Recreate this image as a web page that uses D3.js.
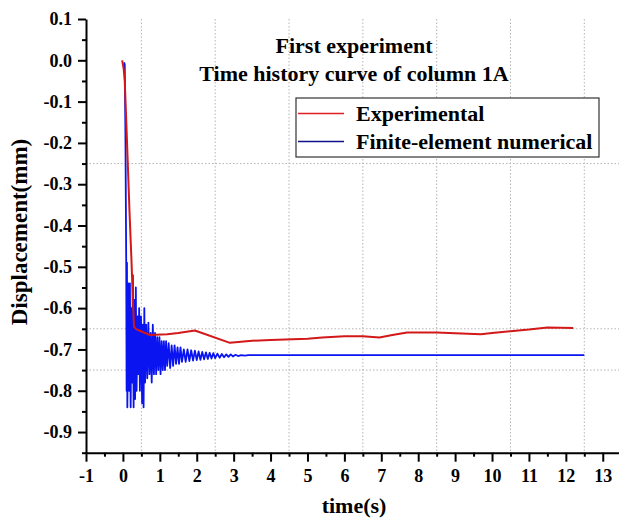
<!DOCTYPE html>
<html>
<head>
<meta charset="utf-8">
<script src="https://cdn.jsdelivr.net/npm/d3@7"></script>
<style>
  body { margin: 0; background: #fff; }
  svg text { font-family: "Liberation Serif", "Times New Roman", serif; font-weight: bold; fill: #000; }
</style>
</head>
<body>
<svg id="chart"></svg>
<script>
// Chart size
const width = 619;
const height = 522;

// Tick values
const xTicks = [-1, 0, 1, 2, 3, 4, 5, 6, 7, 8, 9, 10, 11, 12, 13];
const yTicks = [0.1, 0.0, -0.1, -0.2, -0.3, -0.4, -0.5, -0.6, -0.7, -0.8, -0.9];
const xGrid = [0.5, 2.5, 4.5, 6.5, 8.5, 10.5, 12.5];
const yGrid = [-0.25, -0.65, -0.75];

// Experimental displacement (time s, mm)
const expTime = [-0.02, 0.02, 0.05, 0.1, 0.14, 0.18, 0.23, 0.27, 0.30, 0.35, 0.41, 0.73, 1.2, 1.5, 1.95, 2.9, 3.5, 4.0, 5.0, 5.4, 6.0, 6.5, 6.95, 7.3, 7.7, 8.5, 9.0, 9.7, 10.0, 10.5, 11.0, 11.5, 12.2];
const expDisp = [0.0, -0.02, -0.05, -0.17, -0.27, -0.37, -0.48, -0.58, -0.645, -0.65, -0.653, -0.665, -0.663, -0.66, -0.654, -0.684, -0.679, -0.677, -0.674, -0.671, -0.668, -0.668, -0.671, -0.665, -0.659, -0.659, -0.661, -0.663, -0.66, -0.656, -0.652, -0.647, -0.648];

// Finite-element numerical displacement (time s, mm)
const feTime = [0.03, 0.05, 0.07, 0.09, 0.10, 0.11, 0.12, 0.15, 0.17, 0.19, 0.21, 0.23, 0.25, 0.27, 0.29, 0.31, 0.33, 0.35, 0.37, 0.40, 0.42, 0.44, 0.46, 0.49, 0.52, 0.54, 0.56, 0.58, 0.60, 0.63, 0.66, 0.69, 0.72, 0.75, 0.78, 0.81, 0.84, 0.87, 0.90, 0.93, 0.96, 0.99, 1.02, 1.05, 1.08, 1.11, 1.14, 1.17, 1.20, 1.24, 1.28, 1.32, 1.36, 1.40, 1.44, 1.48, 1.52, 1.56, 1.60, 1.65, 1.70, 1.75, 1.80, 1.85, 1.90, 1.95, 2.00, 2.05, 2.10, 2.15, 2.20, 2.25, 2.30, 2.35, 2.40, 2.45, 2.50, 2.56, 2.62, 2.68, 2.74, 2.80, 2.86, 2.92, 2.98, 3.05, 3.12, 3.20, 3.30, 3.40, 12.5];
const feDisp = [-0.005, -0.01, -0.2, -0.5, -0.80, -0.49, -0.84, -0.54, -0.80, -0.54, -0.84, -0.60, -0.78, -0.52, -0.84, -0.58, -0.82, -0.55, -0.80, -0.62, -0.76, -0.60, -0.80, -0.62, -0.83, -0.64, -0.84, -0.60, -0.78, -0.64, -0.77, -0.635, -0.76, -0.66, -0.78, -0.64, -0.76, -0.66, -0.76, -0.67, -0.75, -0.67, -0.76, -0.68, -0.75, -0.68, -0.75, -0.68, -0.74, -0.685, -0.745, -0.69, -0.74, -0.69, -0.735, -0.695, -0.735, -0.695, -0.73, -0.70, -0.73, -0.70, -0.728, -0.702, -0.727, -0.703, -0.726, -0.705, -0.725, -0.706, -0.724, -0.707, -0.723, -0.708, -0.722, -0.709, -0.721, -0.710, -0.720, -0.711, -0.719, -0.712, -0.718, -0.712, -0.717, -0.713, -0.716, -0.714, -0.715, -0.714, -0.714];

const expData = expTime.map((t, i) => [t, expDisp[i]]);
const feData = feTime.map((t, i) => [t, feDisp[i]]);

const svg = d3.select("#chart")
  .attr("width", width)
  .attr("height", height);

// Scales
const x = d3.scaleLinear().domain([-1, 13.44]).range([86, 619]);
const y = d3.scaleLinear().domain([-0.95, 0.1]).range([452.7, 19]);

// Grid lines (dotted)
svg.append("g").selectAll("line")
  .data(xGrid)
  .enter().append("line")
  .attr("x1", d => x(d)).attr("x2", d => x(d))
  .attr("y1", y(0.1)).attr("y2", y(-0.95))
  .attr("stroke", "#b4b4b4").attr("stroke-width", 1).attr("stroke-dasharray", "1.5,2");

svg.append("g").selectAll("line")
  .data(yGrid)
  .enter().append("line")
  .attr("x1", x(-1)).attr("x2", width)
  .attr("y1", d => y(d)).attr("y2", d => y(d))
  .attr("stroke", "#b4b4b4").attr("stroke-width", 1).attr("stroke-dasharray", "1.5,2");

// Lines
const line = d3.line().x(d => x(d[0])).y(d => y(d[1]));

svg.append("path")
  .datum(feData)
  .attr("fill", "none")
  .attr("stroke", "#0a14f0")
  .attr("stroke-width", 1.8)
  .attr("stroke-linejoin", "round")
  .attr("d", line);

svg.append("path")
  .datum(expData)
  .attr("fill", "none")
  .attr("stroke", "#d21818")
  .attr("stroke-width", 2)
  .attr("stroke-linejoin", "round")
  .attr("d", line);

// Axes (plain hyphen minus like the original)
const hyphen = f => v => f(v).replace("\u2212", "-");
const xMinor = d3.range(-1, 13.5, 0.5).filter(v => !xTicks.includes(v));
const yMinor = d3.range(0.1, -0.96, -0.05).map(v => +v.toFixed(2)).filter(v => !yTicks.includes(v));

svg.append("g")
  .attr("transform", `translate(0, ${y(-0.95)})`)
  .call(d3.axisBottom(x).tickValues(xTicks).tickFormat(hyphen(d3.format("d"))).tickSize(9).tickPadding(8).tickSizeOuter(0));

svg.append("g")
  .attr("transform", `translate(0, ${y(-0.95)})`)
  .call(d3.axisBottom(x).tickValues(xMinor).tickFormat("").tickSize(4).tickSizeOuter(0))
  .select(".domain").remove();

svg.append("g")
  .attr("transform", `translate(${x(-1)}, 0)`)
  .call(d3.axisLeft(y).tickValues(yTicks).tickFormat(hyphen(d3.format(".1f"))).tickSize(8).tickPadding(6).tickSizeOuter(0));

svg.append("g")
  .attr("transform", `translate(${x(-1)}, 0)`)
  .call(d3.axisLeft(y).tickValues(yMinor).tickFormat("").tickSize(4).tickSizeOuter(0))
  .select(".domain").remove();

svg.selectAll(".domain").attr("stroke", "#000").attr("stroke-width", 2);
svg.selectAll(".tick line").attr("stroke", "#000").attr("stroke-width", 2);
svg.selectAll(".tick text").style("font-size", "18px").style("font-family", "'Liberation Serif', serif").style("font-weight", "bold");

// Axis titles
svg.append("text")
  .attr("x", 354).attr("y", 513)
  .attr("text-anchor", "middle")
  .style("font-size", "22px")
  .text("time(s)");

svg.append("text")
  .attr("transform", "translate(27, 232) rotate(-90)")
  .attr("text-anchor", "middle")
  .style("font-size", "23px")
  .text("Displacement(mm)");

// Chart title
svg.append("text")
  .attr("x", 354).attr("y", 53)
  .attr("text-anchor", "middle")
  .style("font-size", "22px")
  .text("First experiment");

svg.append("text")
  .attr("x", 354).attr("y", 81)
  .attr("text-anchor", "middle")
  .style("font-size", "22px")
  .text("Time history curve of column 1A");

// Legend
const legend = svg.append("g");
legend.append("rect")
  .attr("x", 296).attr("y", 98)
  .attr("width", 303).attr("height", 59)
  .attr("fill", "#fff")
  .attr("stroke", "#333")
  .attr("stroke-width", 1.2);

const legendItems = [
  { label: "Experimental", color: "#e02020", y: 113.5 },
  { label: "Finite-element numerical", color: "#10108a", y: 141.5 }
];

legendItems.forEach(d => {
  legend.append("line")
    .attr("x1", 298).attr("x2", 344)
    .attr("y1", d.y).attr("y2", d.y)
    .attr("stroke", d.color).attr("stroke-width", 1.6);
  legend.append("text")
    .attr("x", 356).attr("y", d.y + 7.5)
    .style("font-size", "22px")
    .text(d.label);
});
</script>
</body>
</html>
